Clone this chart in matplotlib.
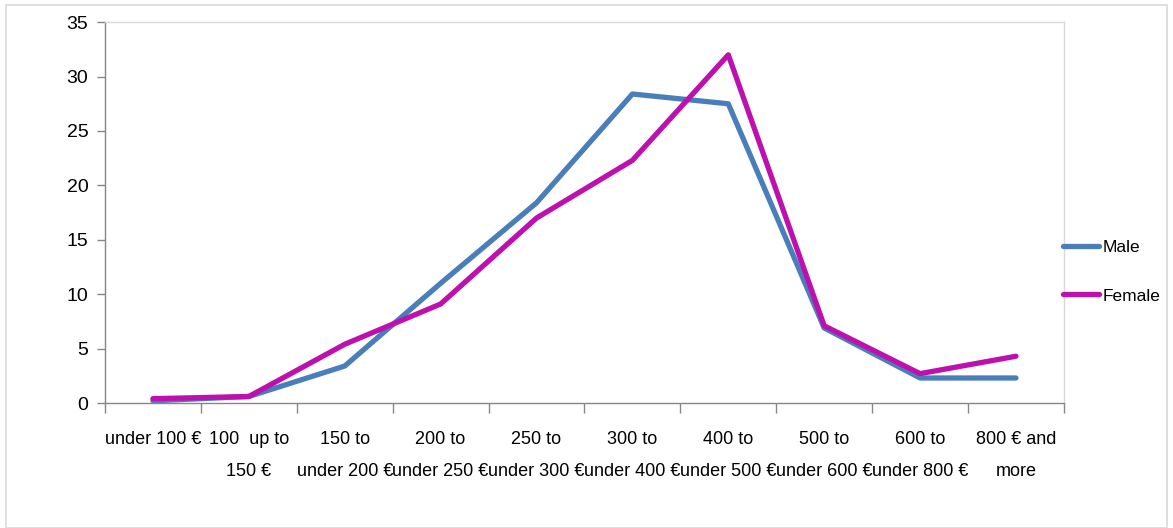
import matplotlib.pyplot as plt
from matplotlib.patches import Rectangle

plt.rcParams['font.family'] = ['Liberation Sans', 'DejaVu Sans']

categories = ["under 100 €", "100  up to\n150 €", "150 to\nunder 200 €", "200 to\nunder 250 €",
              "250 to\nunder 300 €", "300 to\nunder 400 €", "400 to\nunder 500 €",
              "500 to\nunder 600 €", "600 to\nunder 800 €", "800 € and\nmore"]
male = [0.2, 0.6, 3.4, 11.0, 18.4, 28.4, 27.5, 6.9, 2.3, 2.3]
female = [0.4, 0.6, 5.4, 9.1, 17.0, 22.3, 32.0, 7.1, 2.7, 4.3]

colors = {'male': '#4A7EBB', 'female': '#BE10AE', 'axis': '#868686', 'frame': '#D9D9D9'}

fig = plt.figure(figsize=(11.73, 5.28), dpi=100)
ax = fig.add_axes([0.0895, 0.2367, 0.8175, 0.7213])

x = range(len(categories))
ax.plot(x, male, color=colors['male'], lw=3.8, label='Male', solid_capstyle='round')
ax.plot(x, female, color=colors['female'], lw=3.8, label='Female', solid_capstyle='round')

ax.set_xlim(-0.5, len(categories) - 0.5)
ax.set_ylim(0, 35)
ax.set_yticks(range(0, 36, 5))

# labels at category centres, tick marks at boundaries
ax.set_xticks(list(x))
ax.set_xticklabels(categories, fontsize=13, linespacing=2.15, va='top')
ax.set_xticks([i - 0.5 for i in range(len(categories) + 1)], minor=True)
ax.tick_params(axis='x', which='major', length=0, pad=20)
ax.tick_params(axis='x', which='minor', length=7, width=1, color=colors['axis'], direction='out')
ax.tick_params(axis='y', length=6, width=1, color=colors['axis'], labelsize=14, pad=6)

for side in ['left', 'bottom']:
    ax.spines[side].set_color(colors['axis'])
    ax.spines[side].set_linewidth(1)
for side in ['top', 'right']:
    ax.spines[side].set_color(colors['frame'])
    ax.spines[side].set_linewidth(1)

ax.legend(loc='center left', bbox_to_anchor=(0.906, 0.485), bbox_transform=fig.transFigure,
          frameon=False, fontsize=12.5, handlelength=2.1, handletextpad=0.2, labelspacing=1.9,
          borderpad=0, borderaxespad=0)

fig.patches.append(Rectangle((0.005, 0.0), 0.99, 0.99, transform=fig.transFigure,
                             fill=False, edgecolor=colors['frame'], lw=1.2))

fig.savefig('out.png', dpi=100)
